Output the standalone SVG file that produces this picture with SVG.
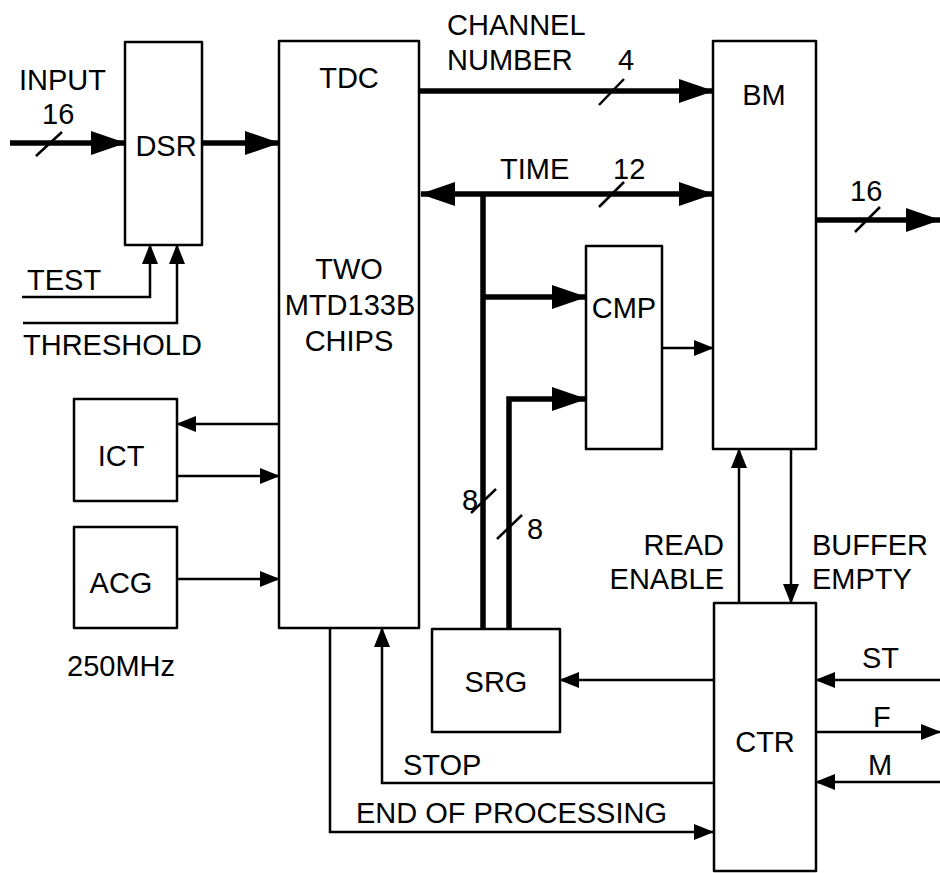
<svg xmlns="http://www.w3.org/2000/svg" width="940" height="873" viewBox="0 0 940 873">
<style>
.box{fill:#fff;stroke:#000;stroke-width:2.5;stroke-linejoin:round}
.t{font-family:"Liberation Sans",Arial,sans-serif;font-size:29px;fill:#000}
.m{text-anchor:middle}
.e{text-anchor:end}
.thin{fill:none;stroke:#000;stroke-width:2.5}
.thick{fill:none;stroke:#000;stroke-width:5.5}
.sl{fill:none;stroke:#000;stroke-width:2.5}
.ta{marker-end:url(#ah)}
.Ta{marker-end:url(#AH)}
</style>
<defs>
<marker id="ah" markerUnits="userSpaceOnUse" markerWidth="20" markerHeight="16" refX="19" refY="8" orient="auto-start-reverse"><path d="M0,0 L20,8 L0,16 z" fill="#000"/></marker>
<marker id="AH" markerUnits="userSpaceOnUse" markerWidth="35" markerHeight="24" refX="34" refY="12" orient="auto-start-reverse"><path d="M0,0 L35,12 L0,24 z" fill="#000"/></marker>
</defs>
<rect width="940" height="873" fill="#fff"/>
<g id="connectors">
<path class="thick Ta" d="M10,143 H125"/>
<path class="thick Ta" d="M202,143 H279"/>
<path class="thick Ta" d="M419,91 H713"/>
<path class="thick Ta" d="M421,194 H713" style="marker-start:url(#AH)"/>
<path class="thick" d="M483,194 V629"/>
<path class="thick Ta" d="M483,297 H586"/>
<path class="thick Ta" d="M509,629 V399 H586"/>
<path class="thick Ta" d="M816,220 H940"/>
<path class="thin ta" d="M22,297 H150 V245"/>
<path class="thin ta" d="M23,323 H177 V245"/>
<path class="thin ta" d="M279,424 H177"/>
<path class="thin ta" d="M177,476 H279"/>
<path class="thin ta" d="M177,579 H279"/>
<path class="thin ta" d="M662,348 H713"/>
<path class="thin ta" d="M739,603 V449"/>
<path class="thin ta" d="M791,449 V603"/>
<path class="thin ta" d="M713,680 H560"/>
<path class="thin ta" d="M940,680 H816"/>
<path class="thin ta" d="M816,732 H940"/>
<path class="thin ta" d="M940,782 H816"/>
<path class="thin ta" d="M713,783 H382 V628"/>
<path class="thin ta" d="M330,628 V832 H713"/>
<path class="sl" d="M36,156 L62,132"/>
<path class="sl" d="M599,105 L624,79"/>
<path class="sl" d="M599,207 L624,182"/>
<path class="sl" d="M855,232 L880,207"/>
<path class="sl" d="M471,513 L496,489"/>
<path class="sl" d="M497,539 L522,515"/>
<text class="t" x="19" y="90">INPUT</text>
<text class="t" x="42" y="124">16</text>
<text class="t" x="27" y="290">TEST</text>
<text class="t" x="23" y="355">THRESHOLD</text>
<text class="t" x="447" y="35">CHANNEL</text>
<text class="t" x="447" y="70">NUMBER</text>
<text class="t" x="618" y="70">4</text>
<text class="t" x="500" y="179">TIME</text>
<text class="t" x="613" y="179">12</text>
<text class="t" x="850" y="201">16</text>
<text class="t" x="462" y="510">8</text>
<text class="t" x="527" y="539">8</text>
<text class="t e" x="724" y="555">READ</text>
<text class="t e" x="724" y="589">ENABLE</text>
<text class="t" x="812" y="555">BUFFER</text>
<text class="t" x="812" y="589">EMPTY</text>
<text class="t" x="862" y="668">ST</text>
<text class="t" x="873" y="727">F</text>
<text class="t" x="868" y="775">M</text>
<text class="t" x="403" y="775">STOP</text>
<text class="t" x="356" y="823">END OF PROCESSING</text>
<text class="t" x="67" y="676">250MHz</text>
</g>
<g id="DSR"><rect class="box" x="125" y="42" width="77" height="203"/><text class="t m" x="166" y="156">DSR</text></g>
<g id="TDC"><rect class="box" x="279" y="41" width="140" height="587"/><text class="t m" x="349" y="88">TDC</text><text class="t m" x="349" y="279">TWO</text><text class="t m" x="350" y="315">MTD133B</text><text class="t m" x="349" y="351">CHIPS</text></g>
<g id="BM"><rect class="box" x="713" y="41" width="103" height="408"/><text class="t m" x="764" y="105">BM</text></g>
<g id="CMP"><rect class="box" x="586" y="246" width="76" height="203"/><text class="t m" x="624" y="318">CMP</text></g>
<g id="ICT"><rect class="box" x="74" y="399" width="103" height="102"/><text class="t m" x="121" y="466">ICT</text></g>
<g id="ACG"><rect class="box" x="74" y="527" width="103" height="101"/><text class="t m" x="121" y="593">ACG</text></g>
<g id="SRG"><rect class="box" x="432" y="629" width="128" height="103"/><text class="t m" x="496" y="692">SRG</text></g>
<g id="CTR"><rect class="box" x="714" y="603" width="102" height="268"/><text class="t m" x="765" y="752">CTR</text></g>
</svg>
